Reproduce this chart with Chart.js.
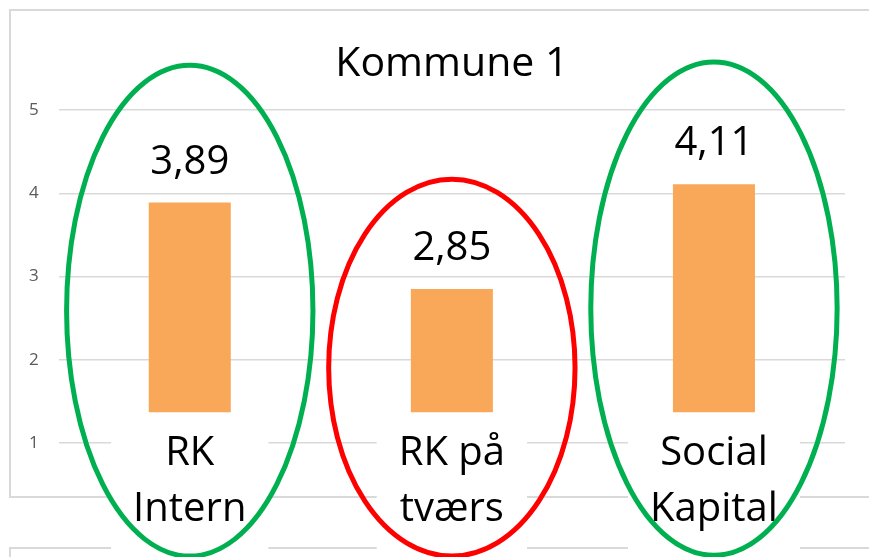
<!DOCTYPE html>
<html>
<head>
<meta charset="utf-8">
<script src="https://cdn.jsdelivr.net/npm/chart.js@4"></script>
<style>
  html, body { margin: 0; padding: 0; background: #fff; }
  #wrap { width: 869px; height: 557px; }
</style>
</head>
<body>
<div id="wrap"><canvas id="kommune"></canvas></div>
<script>
// data
const categories = [["RK", "Intern"], ["RK på", "tværs"], ["Social", "Kapital"]];
const scores = [3.89, 2.85, 4.11];
const yTicks = [1, 2, 3, 4, 5];
const title = "Kommune 1";

const FONT = "'Open Sans', sans-serif";

// light grey frame behind the chart
const framePlugin = {
	id: "frame",
	beforeDraw(chart) {
		const ctx = chart.ctx;
		ctx.save();
		ctx.fillStyle = "#ffffff";
		ctx.fillRect(0, 0, chart.width, chart.height);
		ctx.strokeStyle = "#d9d9d9";
		ctx.lineWidth = 2;
		ctx.strokeRect(10, 10, chart.width + 20, 487);
		ctx.strokeRect(10, 548, chart.width + 20, 40);
		ctx.restore();
	},
};

// white boxes behind the category names + value labels above the bars
// (tick backdrops get drawn per line in v4 and hide the first line)
const labelBoxes = {
	id: "labelBoxes",
	afterDatasetsDraw(chart) {
		const ctx = chart.ctx;
		const x = chart.scales.x;
		const meta = chart.getDatasetMeta(0);
		ctx.save();
		ctx.font = `40px ${FONT}`;
		ctx.fillStyle = "#ffffff";
		categories.forEach((lines, i) => {
			const w = Math.max(...lines.map((l) => ctx.measureText(l).width));
			ctx.fillRect(x.getPixelForValue(i) - w / 2 - 22, x.top - 6, w + 44, chart.height);
		});
		ctx.textAlign = "center";
		ctx.textBaseline = "alphabetic";
		meta.data.forEach((bar, i) => {
			const txt = scores[i].toFixed(2).replace(".", ",");
			const w = ctx.measureText(txt).width;
			const yb = bar.y - 29;
			ctx.fillStyle = "#ffffff";
			ctx.fillRect(bar.x - w / 2 - 22, yb - 42, w + 44, 54);
			ctx.fillStyle = "#000000";
			ctx.fillText(txt, bar.x, yb);
		});
		ctx.restore();
	},
};

// rings round each category, given in axis units
const rings = {
	id: "rings",
	afterDraw(chart, args, opts) {
		const ctx = chart.ctx;
		const x = chart.scales.x;
		const y = chart.scales.y;
		const step = x.width / categories.length;
		ctx.save();
		ctx.lineWidth = 5;
		opts.items.forEach((r, i) => {
			const top = y.getPixelForValue(r.top);
			const bottom = y.getPixelForValue(r.bottom);
			ctx.strokeStyle = r.color;
			ctx.beginPath();
			ctx.ellipse(x.getPixelForValue(i), (top + bottom) / 2, step * 0.47, (bottom - top) / 2, 0, 0, Math.PI * 2);
			ctx.stroke();
		});
		ctx.restore();
	},
};

new Chart(document.getElementById("kommune"), {
	type: "bar",
	data: {
		labels: categories,
		datasets: [
			{
				label: title,
				data: scores,
				base: 1.37,
				backgroundColor: "#f9a85a",
				barPercentage: 1,
				categoryPercentage: 0.313,
			},
		],
	},
	options: {
		responsive: true,
		maintainAspectRatio: false,
		animation: false,
		layout: { padding: { top: 10, left: 9, right: 24, bottom: 0 } },
		plugins: {
			legend: { display: false },
			tooltip: { enabled: false },
			title: {
				display: true,
				text: title,
				fullSize: false,
				color: "#000000",
				font: { size: 41, family: FONT, weight: "normal", lineHeight: 1.2 },
				padding: { top: 30, bottom: 21 },
			},
			rings: {
				items: [
					{ top: 5.54, bottom: -0.36, color: "#00b050" },
					{ top: 4.17, bottom: -0.36, color: "#ff0000" },
					{ top: 5.58, bottom: -0.35, color: "#00b050" },
				],
			},
		},
		scales: {
			x: {
				grid: { display: false },
				border: { display: false },
				afterFit(scale) {
					scale.height += 24;
				},
				ticks: {
					z: 1,
					color: "#000000",
					font: { size: 40, family: FONT, lineHeight: 1.4 },
					padding: -5,
					maxRotation: 0,
					autoSkip: false,
				},
			},
			y: {
				min: 1.24,
				max: 5,
				afterBuildTicks(scale) {
					scale.ticks = yTicks.map((v) => ({ value: v }));
				},
				grid: { color: "#d9d9d9", lineWidth: 1.5, drawTicks: false },
				border: { display: false },
				ticks: {
					color: "#595959",
					font: { size: 17, family: FONT },
					padding: 20,
				},
			},
		},
	},
	plugins: [framePlugin, labelBoxes, rings],
});
</script>
</body>
</html>
